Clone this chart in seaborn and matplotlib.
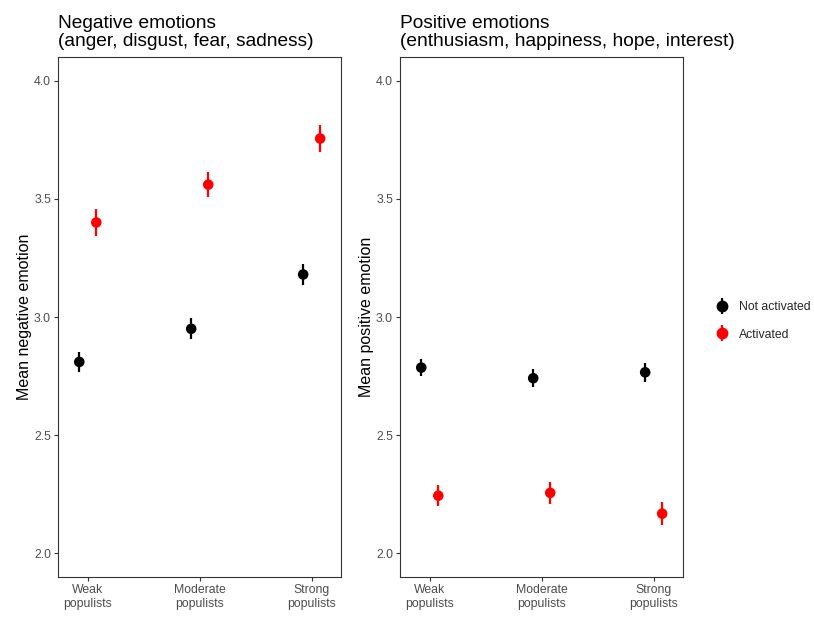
import matplotlib
matplotlib.use("Agg")
import matplotlib.pyplot as plt
import numpy as np
import pandas as pd
import seaborn as sns
from matplotlib.lines import Line2D
from matplotlib.legend_handler import HandlerTuple

# Group labels and experimental conditions
groups = ["Weak\npopulists", "Moderate\npopulists", "Strong\npopulists"]
conditions = ["Not activated", "Activated"]
palette = {"Not activated": "black", "Activated": "#FF0000"}

# Mean negative emotion with standard errors
neg_not_mean = [2.81, 2.95, 3.18]
neg_not_se = [0.042, 0.044, 0.044]
neg_act_mean = [3.40, 3.56, 3.755]
neg_act_se = [0.057, 0.052, 0.056]

# Mean positive emotion with standard errors
pos_not_mean = [2.786, 2.741, 2.766]
pos_not_se = [0.035, 0.037, 0.039]
pos_act_mean = [2.244, 2.256, 2.168]
pos_act_se = [0.044, 0.046, 0.048]

y_ticks = [2.0, 2.5, 3.0, 3.5, 4.0]

sns.set_theme(style="ticks")
plt.rcParams["font.family"] = ["Liberation Sans", "DejaVu Sans"]

W, H = 814, 618
fig = plt.figure(figsize=(W / 100, H / 100), dpi=100)
ax1 = fig.add_axes([58 / W, 1 - 577 / H, 283 / W, 520 / H])
ax2 = fig.add_axes([400 / W, 1 - 577 / H, 283 / W, 520 / H])

# dodge the two conditions around each group position
offsets = {"Not activated": -0.076, "Activated": 0.076}


def panel(ax, not_m, not_se, act_m, act_se, title, ylabel):
    df = pd.DataFrame({
        "group": list(range(len(groups))) * 2,
        "condition": [conditions[0]] * len(groups) + [conditions[1]] * len(groups),
        "mean": list(not_m) + list(act_m),
        "se": list(not_se) + list(act_se),
    })
    df["x"] = df["group"] + df["condition"].map(offsets)
    ax.vlines(df["x"], df["mean"] - df["se"], df["mean"] + df["se"],
              colors=df["condition"].map(palette), lw=1.6, zorder=2)
    sns.scatterplot(data=df, x="x", y="mean", hue="condition", palette=palette,
                    s=58, edgecolor="none", linewidth=0, legend=False,
                    ax=ax, zorder=3)
    ax.set_xlim(-0.266, 2.262)
    ax.set_ylim(1.9, 4.1)
    ax.set_xticks(range(len(groups)))
    ax.set_xticklabels(groups, linespacing=1.25)
    ax.set_yticks(y_ticks)
    ax.set_yticklabels([f"{v:.1f}" for v in y_ticks])
    ax.set_xlabel("")
    ax.set_ylabel(ylabel, fontsize=11.5, color="black", labelpad=1.5)
    ax.set_title(title, loc="left", fontsize=13.8, pad=8, linespacing=1.1,
                 color="black")
    for sp in ax.spines.values():
        sp.set_visible(True)
        sp.set_color("#333333")
        sp.set_linewidth(0.8)
    ax.tick_params(axis="both", direction="out", length=3, width=0.8,
                   color="#333333", labelcolor="#4D4D4D", labelsize=8.8, pad=2)
    ax.grid(False)


panel(ax1, neg_not_mean, neg_not_se, neg_act_mean, neg_act_se,
      "Negative emotions\n(anger, disgust, fear, sadness)",
      "Mean negative emotion")
panel(ax2, pos_not_mean, pos_not_se, pos_act_mean, pos_act_se,
      "Positive emotions\n(enthusiasm, happiness, hope, interest)",
      "Mean positive emotion")

handles = []
for cond in conditions:
    c = palette[cond]
    bar = Line2D([], [], color=c, marker="|", markersize=12, mew=1.6, ls="none")
    dot = Line2D([], [], color=c, marker="o", markersize=7.5, ls="none")
    handles.append((bar, dot))

fig.legend(handles, conditions, loc="center left",
           bbox_to_anchor=(704 / W, 1 - 321 / H), frameon=False,
           fontsize=8.8, handler_map={tuple: HandlerTuple(ndivide=1)},
           handlelength=1.2, handletextpad=0.8, labelspacing=1.25)

fig.savefig("out.png", dpi=100, facecolor="white")
